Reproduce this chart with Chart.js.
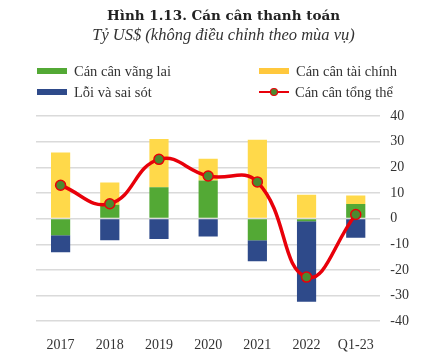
<!DOCTYPE html>
<html>
<head>
<meta charset="utf-8">
<script src="https://cdn.jsdelivr.net/npm/chart.js@4.4.1/dist/chart.umd.min.js"></script>
<style>
  html,body{margin:0;padding:0;background:#fff;}
  #wrap{position:relative;width:447px;height:358px;overflow:hidden;}
  canvas{position:absolute;left:0;top:0;}
  .t{position:absolute;left:0;width:447px;text-align:center;white-space:nowrap;color:#222;}
  #title{top:7px;font-family:"DejaVu Serif",serif;font-weight:bold;font-size:13.5px;}
  #sub{top:25px;font-family:"Liberation Serif",serif;font-style:italic;font-size:16.5px;color:#333;}
  .lg{position:absolute;font-family:"Liberation Serif",serif;font-size:14.5px;color:#333;white-space:nowrap;line-height:16px;}
  .sw{display:inline-block;width:30px;height:6px;vertical-align:middle;margin-right:7px;position:relative;top:-2px;}
  .ln{display:inline-block;width:30px;height:10px;vertical-align:middle;margin-right:6px;position:relative;top:-2px;}
</style>
</head>
<body>
<div id="wrap">
  <canvas id="c" width="447" height="374"></canvas>
  <div class="t" id="title">Hình 1.13. Cán cân thanh toán</div>
  <div class="t" id="sub">Tỷ US$ (không điều chỉnh theo mùa vụ)</div>
  <div class="lg" style="left:37px;top:63px;"><span class="sw" style="background:#53A935"></span>Cán cân vãng lai</div>
  <div class="lg" style="left:37px;top:84px;"><span class="sw" style="background:#2E4A8A"></span>Lỗi và sai sót</div>
  <div class="lg" style="left:259px;top:63px;"><span class="sw" style="background:#FFC83D"></span>Cán cân tài chính</div>
  <div class="lg" style="left:259px;top:84px;"><svg class="ln" viewBox="0 0 30 10"><line x1="0" y1="5" x2="30" y2="5" stroke="#E8000A" stroke-width="2"/><circle cx="15" cy="5" r="3.5" fill="#4C8A30" stroke="#E8000A" stroke-width="1.2"/></svg>Cán cân tổng thể</div>
</div>
<script>
const categories = ["2017","2018","2019","2020","2021","2022","Q1-23"];
const currentAccount = [-6.5, 5.4, 12.2, 14.9, -8.4, -1.0, 5.7];
const financialAccount = [25.8, 8.7, 18.8, 8.4, 30.7, 9.3, 3.3];
const errorsOmissions = [-6.6, -8.4, -8.0, -7.0, -8.2, -31.4, -7.5];
const overallBalance = [13.0, 5.8, 23.1, 16.6, 14.3, -22.8, 1.6];
const yTicks = [40, 30, 20, 10, 0, -10, -20, -30, -40];

const tickFont = {family: "Liberation Serif", size: 14};

new Chart(document.getElementById('c'), {
  type: 'bar',
  data: {
    labels: categories,
    datasets: [
      {label: 'Cán cân vãng lai', data: currentAccount, backgroundColor: '#53A935', order: 1, stack: 'bars'},
      {label: 'Cán cân tài chính', data: financialAccount, backgroundColor: '#FFD94A', order: 1, stack: 'bars'},
      {label: 'Lỗi và sai sót', data: errorsOmissions, backgroundColor: '#2E4A8A', order: 1, stack: 'bars'},
      {type: 'line', label: 'Cán cân tổng thể', data: overallBalance, stack: 'overall', order: 0,
       borderColor: '#E8000A', borderWidth: 3.5, tension: 0.45,
       pointRadius: 5, pointBackgroundColor: '#4C8A30', pointBorderColor: '#E8000A', pointBorderWidth: 1.5}
    ]
  },
  options: {
    responsive: false,
    animation: false,
    layout: {padding: {top: 116, left: 36, right: 28, bottom: 4}},
    datasets: {bar: {categoryPercentage: 1, barPercentage: 0.39}},
    plugins: {legend: {display: false}, title: {display: false}, tooltip: {enabled: false}},
    scales: {
      x: {
        stacked: true,
        grid: {display: false, drawTicks: false},
        border: {display: false},
        ticks: {font: tickFont, color: '#333', padding: 16}
      },
      y: {
        position: 'right',
        stacked: true,
        min: -40, max: 40,
        afterBuildTicks: (s) => { s.ticks = yTicks.map(v => ({value: v})); },
        grid: {color: '#DADADA', lineWidth: 1.5, drawTicks: false},
        border: {display: false},
        ticks: {font: tickFont, color: '#333', padding: 10}
      }
    }
  }
});
</script>
</body>
</html>
